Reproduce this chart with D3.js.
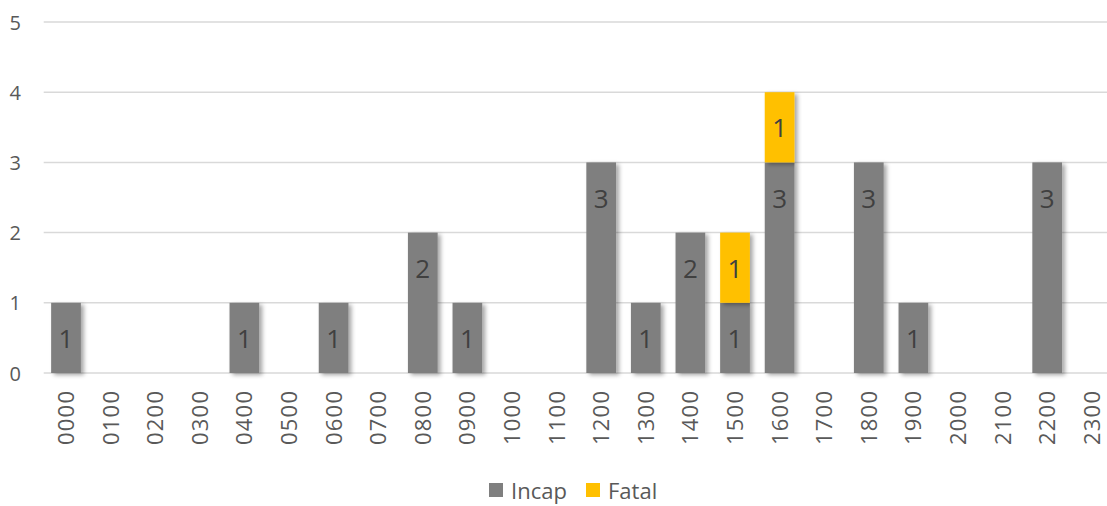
<!DOCTYPE html>
<html>
<head>
<meta charset="utf-8">
<script src="https://cdn.jsdelivr.net/npm/d3@7"></script>
<style>
  html, body { margin: 0; padding: 0; background: #ffffff; overflow: hidden; }
  svg { display: block; font-family: "Open Sans", "Noto Sans", sans-serif; }
</style>
</head>
<body>
<svg id="chart" width="1107" height="506"></svg>
<script>
// Hour-of-day buckets
const hours = ["0000","0100","0200","0300","0400","0500","0600","0700","0800","0900","1000","1100",
               "1200","1300","1400","1500","1600","1700","1800","1900","2000","2100","2200","2300"];
// Casualty counts per hour
const incap = [1,0,0,0,1,0,1,0,2,1,0,0,3,1,2,1,3,0,3,1,0,0,3,0];
const fatal = [0,0,0,0,0,0,0,0,0,0,0,0,0,0,0,1,1,0,0,0,0,0,0,0];
const yTicks = [0,1,2,3,4,5];
const seriesNames = ["Incap", "Fatal"];
const seriesColors = ["#7f7f7f", "#ffc000"];

const svg = d3.select("#chart");
const plotLeft = 43.7, plotRight = 1114.1, plotTop = 22, plotBottom = 373;

const x = d3.scaleBand().domain(hours).range([plotLeft, plotRight]).paddingInner(1/3).paddingOuter(1/6);
const y = d3.scaleLinear().domain([0, 5]).range([plotBottom, plotTop]);

// soft shadow on bars
const defs = svg.append("defs");
const f = defs.append("filter").attr("id", "shadow").attr("x", "-30%").attr("y", "-10%").attr("width", "160%").attr("height", "130%");
f.append("feDropShadow").attr("dx", 3).attr("dy", 2).attr("stdDeviation", 2.2)
  .attr("flood-color", "#000").attr("flood-opacity", 0.35);

// gridlines
svg.append("g").selectAll("line").data(yTicks).join("line")
  .attr("x1", plotLeft).attr("x2", plotRight)
  .attr("y1", d => y(d)).attr("y2", d => y(d))
  .attr("stroke", "#d9d9d9").attr("stroke-width", 1.5);

// y tick labels
svg.append("g").selectAll("text").data(yTicks).join("text")
  .attr("x", 21).attr("y", d => y(d))
  .attr("text-anchor", "end").attr("dominant-baseline", "central")
  .attr("font-size", 20).attr("fill", "#595959")
  .text(d => d);

// x tick labels (rotated)
svg.append("g").selectAll("text").data(hours).join("text")
  .attr("transform", d => `translate(${x(d) + x.bandwidth()/2 - 1},${391}) rotate(-90)`)
  .attr("text-anchor", "end").attr("dominant-baseline", "central")
  .attr("font-size", 22).attr("fill", "#595959")
  .attr("textLength", 54).attr("lengthAdjust", "spacing")
  .text(d => d);

// stacked data
const rows = hours.map((h, i) => ({ hour: h, Incap: incap[i], Fatal: fatal[i] }));
const stack = d3.stack().keys(seriesNames)(rows);

const bars = svg.append("g");
stack.forEach((layer, li) => {
  bars.append("g").selectAll("rect")
    .data(layer.filter(d => d[1] - d[0] > 0))
    .join("rect")
    .attr("x", d => x(d.data.hour))
    .attr("width", x.bandwidth())
    .attr("y", d => y(d[1]))
    .attr("height", d => y(d[0]) - y(d[1]))
    .attr("fill", seriesColors[li])
    .attr("filter", "url(#shadow)");
});

// value labels near top of each segment
const half = (y(0) - y(1)) / 2;
stack.forEach((layer, li) => {
  svg.append("g").selectAll("text")
    .data(layer.filter(d => d[1] - d[0] > 0))
    .join("text")
    .attr("x", d => x(d.data.hour) + x.bandwidth()/2)
    .attr("y", d => y(d[1]) + half)
    .attr("text-anchor", "middle").attr("dominant-baseline", "central")
    .attr("font-size", 26).attr("fill", "#404040")
    .text(d => d[1] - d[0]);
});

// legend
const legendX = [489, 586];
const legend = svg.append("g");
seriesNames.forEach((name, i) => {
  legend.append("rect").attr("x", legendX[i]).attr("y", 483).attr("width", 14).attr("height", 14)
    .attr("fill", seriesColors[i]);
  legend.append("text").attr("x", legendX[i] + 22).attr("y", 490)
    .attr("dominant-baseline", "central").attr("font-size", 22).attr("fill", "#595959")
    .text(name);
});
</script>
</body>
</html>
